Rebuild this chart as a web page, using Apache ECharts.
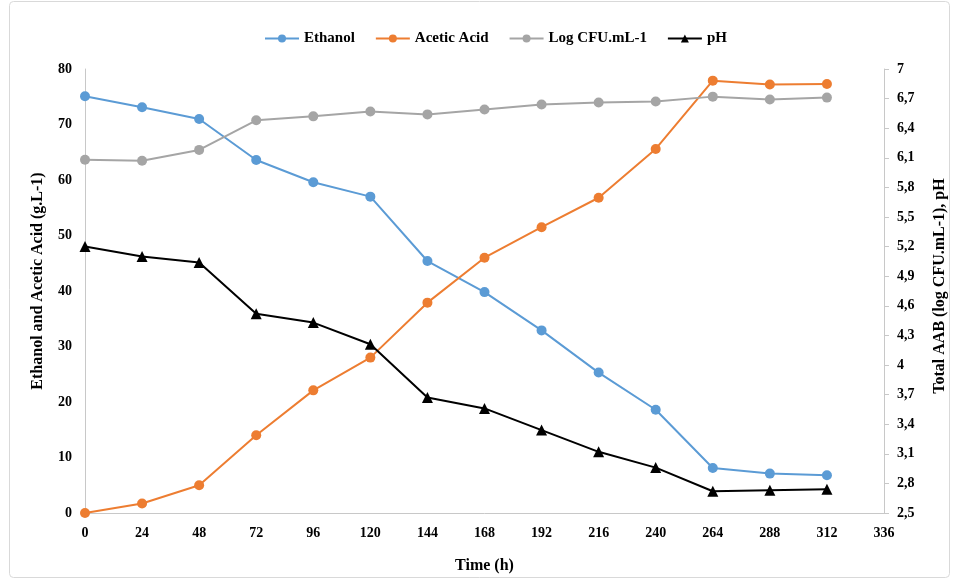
<!DOCTYPE html>
<html><head><meta charset="utf-8">
<script src="https://cdn.jsdelivr.net/npm/echarts@6/dist/echarts.min.js"></script>
<style>html,body{margin:0;padding:0;background:#fff}#c{width:956px;height:579px}</style>
</head><body><div id="c"></div>
<script>
const hours = [0,24,48,72,96,120,144,168,192,216,240,264,288,312];
const ethanol = [75.1,73.1,71.0,63.6,59.6,57.0,45.4,39.8,32.9,25.3,18.6,8.1,7.1,6.8];
const aceticAcid = [0,1.7,5.0,14.0,22.1,28.0,37.9,46.0,51.5,56.8,65.6,77.9,77.2,77.3];
const logCFU = [6.08,6.07,6.18,6.48,6.52,6.57,6.54,6.59,6.64,6.66,6.67,6.72,6.69,6.71];
const pH = [5.20,5.10,5.04,4.52,4.43,4.21,3.67,3.56,3.34,3.12,2.96,2.72,2.73,2.74];

const pair = arr => hours.map((h,i)=>[h,arr[i]]);
const font = 'Liberation Serif';
const chart = echarts.init(document.getElementById('c'));
chart.setOption({
  animation:false,
  textStyle:{fontFamily:font},
  graphic:[{type:'rect',shape:{x:9.5,y:1.5,width:940,height:576,r:4},style:{fill:'none',stroke:'#d9d9d9',lineWidth:1},silent:true}],
  legend:{top:26,left:259,itemWidth:34,itemHeight:10,itemGap:20,
    textStyle:{fontFamily:font,fontWeight:'bold',fontSize:15,color:'#000'},
    data:['Ethanol','Acetic Acid','Log CFU.mL-1','pH']},
  grid:{left:85,right:68,top:69,bottom:65,containLabel:false},
  xAxis:{type:'value',min:0,max:336,interval:24,
    name:'Time (h)',nameLocation:'middle',nameGap:45,
    nameTextStyle:{fontFamily:font,fontWeight:'bold',fontSize:16,color:'#000'},
    axisLine:{lineStyle:{color:'#c8c8c8'}},axisTick:{show:false},splitLine:{show:false},
    axisLabel:{fontFamily:font,fontWeight:'bold',fontSize:14,color:'#000',margin:13}},
  yAxis:[{type:'value',min:0,max:80,interval:10,position:'left',
    name:'Ethanol and Acetic Acid (g.L-1)',nameLocation:'middle',nameGap:39,
    nameTextStyle:{fontFamily:font,fontWeight:'bold',fontSize:16,color:'#000',padding:[0,0,0,20]},
    axisLine:{show:true,lineStyle:{color:'#c8c8c8'}},axisTick:{show:false},splitLine:{show:false},
    axisLabel:{fontFamily:font,fontWeight:'bold',fontSize:14,color:'#000',margin:13}},
   {type:'value',min:2.5,max:7,interval:0.3,position:'right',
    name:'Total AAB (log CFU.mL-1), pH',nameLocation:'middle',nameGap:48,nameRotate:90,
    nameTextStyle:{fontFamily:font,fontWeight:'bold',fontSize:16,color:'#000',padding:[0,0,0,10]},
    axisLine:{show:true,lineStyle:{color:'#c8c8c8'}},
    axisTick:{show:true,length:5,lineStyle:{color:'#c8c8c8'}},splitLine:{show:false},
    axisLabel:{fontFamily:font,fontWeight:'bold',fontSize:14,color:'#000',margin:13,
      formatter:v=>String(Math.round(v*10)/10).replace('.',',')}}],
  series:[
    {name:'Ethanol',type:'line',yAxisIndex:0,data:pair(ethanol),symbol:'circle',symbolSize:10,
      lineStyle:{width:2,color:'#5B9BD5'},itemStyle:{color:'#5B9BD5'}},
    {name:'Acetic Acid',type:'line',yAxisIndex:0,data:pair(aceticAcid),symbol:'circle',symbolSize:10,
      lineStyle:{width:2,color:'#ED7D31'},itemStyle:{color:'#ED7D31'}},
    {name:'Log CFU.mL-1',type:'line',yAxisIndex:1,data:pair(logCFU),symbol:'circle',symbolSize:10,
      lineStyle:{width:2,color:'#A5A5A5'},itemStyle:{color:'#A5A5A5'}},
    {name:'pH',type:'line',yAxisIndex:1,data:pair(pH),symbol:'triangle',symbolSize:11,
      lineStyle:{width:2,color:'#000'},itemStyle:{color:'#000'}}
  ]
});
</script></body></html>
